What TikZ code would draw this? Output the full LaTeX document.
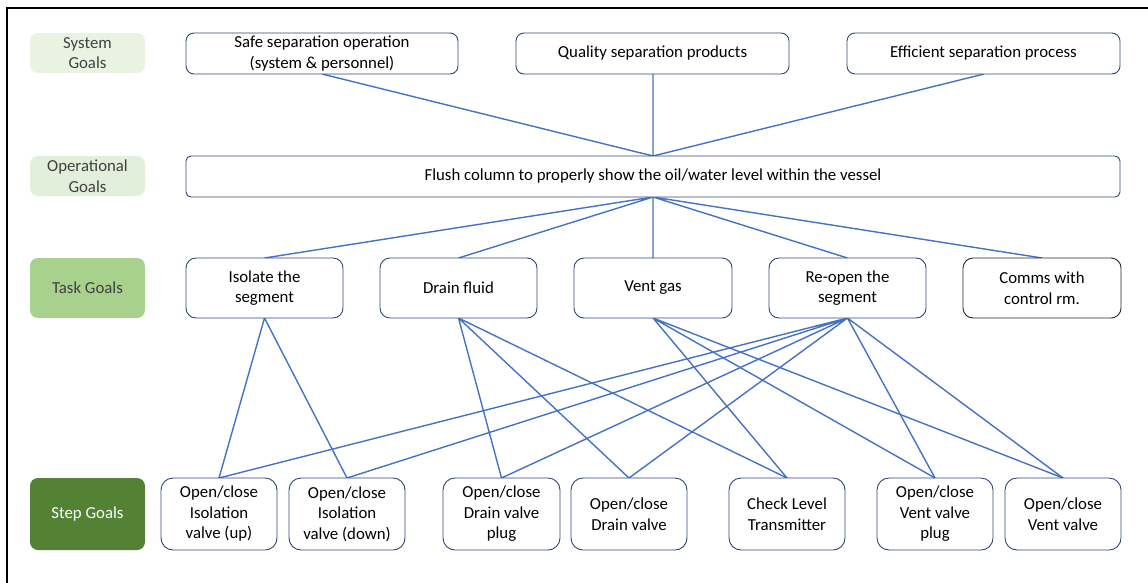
\documentclass[tikz,border=0pt]{standalone}
\usepackage{fontspec}
\setmainfont{Carlito}
\definecolor{lnblue}{HTML}{4472C4}
\definecolor{bdblue}{HTML}{2F4676}
\definecolor{lblA}{HTML}{E8F4E1}
\definecolor{lblB}{HTML}{E2EFDA}
\definecolor{lblC}{HTML}{A9D18E}
\definecolor{lblD}{HTML}{548235}
\definecolor{txtgray}{HTML}{404040}
\begin{document}
\begin{tikzpicture}[x=1pt,y=-1pt,
  every node/.style={font=\fontsize{16.8}{20.5}\selectfont, inner sep=0pt, outer sep=0pt},
  goalbox/.style={draw=bdblue, line width=0.9pt, rounded corners=8pt, fill=white, align=center, text=black},
  lbl/.style={rounded corners=8pt, align=center, text=txtgray, minimum width=115pt},
  conn/.style={draw=lnblue, line width=1.4pt}]
\useasboundingbox (0,0) rectangle (1148,582);
\fill[white] (0,0) rectangle (1148,582);
\draw[line width=1.6pt] (7,590) -- (7,8) -- (1150,8);

% left labels
\node[lbl, fill=lblA, minimum height=40pt] (lsys) at (87.5,53) {System\\Goals};
\node[lbl, fill=lblB, minimum height=40pt] (lop) at (87.5,176) {Operational\\Goals};
\node[lbl, fill=lblC, minimum height=60pt] (ltask) at (87.5,288) {Task Goals};
\node[lbl, fill=lblD, minimum height=72pt, text=white] (lstep) at (87.5,514) {Step Goals};

% connector end points
\coordinate (sysA) at (322,74);
\coordinate (sysB) at (653,74);
\coordinate (sysC) at (984,74);
\coordinate (opT) at (653,156);
\coordinate (opB) at (653,197);
\coordinate (tA) at (264.5,258);
\coordinate (tB) at (458.5,258);
\coordinate (tC) at (653,258);
\coordinate (tD) at (847.5,258);
\coordinate (tE) at (1042,258);
\coordinate (tAb) at (264.5,318);
\coordinate (tBb) at (458.5,318);
\coordinate (tCb) at (653,318);
\coordinate (tDb) at (847.5,318);
\coordinate (s1) at (219,478);
\coordinate (s2) at (347,478);
\coordinate (s3) at (501.5,478);
\coordinate (s4) at (629,478);
\coordinate (s5) at (787,478);
\coordinate (s6) at (935,478);
\coordinate (s7) at (1063,478);

\draw[conn] (sysA) -- (opT) (sysB) -- (opT) (sysC) -- (opT);
\draw[conn] (opB) -- (tA) (opB) -- (tB) (opB) -- (tC) (opB) -- (tD) (opB) -- (tE);
\draw[conn] (tAb) -- (s1) (tAb) -- (s2);
\draw[conn] (tBb) -- (s3) (tBb) -- (s4) (tBb) -- (s5);
\draw[conn] (tCb) -- (s5) (tCb) -- (s6) (tCb) -- (s7);
\draw[conn] (tDb) -- (s1) (tDb) -- (s2) (tDb) -- (s3) (tDb) -- (s4) (tDb) -- (s6) (tDb) -- (s7);

% system goals
\node[goalbox, minimum width=272pt, minimum height=41pt] (safe) at (322,53.5) {Safe separation operation\\(system \& personnel)};
\node[goalbox, minimum width=273pt, minimum height=41pt] (qual) at (652.5,53.5) {Quality separation products};
\node[goalbox, minimum width=273pt, minimum height=41pt] (eff) at (983.5,53.5) {Efficient separation process};

% operational goal
\node[goalbox, rounded corners=5pt, minimum width=934pt, minimum height=41pt] (flush) at (653,176.5) {Flush column to properly show the oil/water level within the vessel};

% task goals
\node[goalbox, rounded corners=10pt, minimum width=157pt, minimum height=60pt] (iso) at (264.5,288) {Isolate the\\segment};
\node[goalbox, rounded corners=10pt, minimum width=157pt, minimum height=60pt] (drain) at (458.5,288) {Drain fluid};
\node[goalbox, rounded corners=10pt, minimum width=158pt, minimum height=60pt] (vent) at (653,288) {Vent gas};
\node[goalbox, rounded corners=10pt, minimum width=157pt, minimum height=60pt] (reopen) at (847.5,288) {Re-open the\\segment};
\node[goalbox, draw=black!85, rounded corners=10pt, minimum width=158pt, minimum height=60pt] (comms) at (1042,288) {Comms with\\control rm.};

% step goals
\tikzset{stepbox/.style={goalbox, rounded corners=12pt, minimum width=116pt, minimum height=72pt}}
\node[stepbox] (st1) at (219,514) {Open/close\\Isolation\\valve (up)};
\node[stepbox] (st2) at (347,514) {Open/close\\Isolation\\valve (down)};
\node[stepbox, minimum width=117pt] (st3) at (501.5,514) {Open/close\\Drain valve\\plug};
\node[stepbox] (st4) at (629,514) {Open/close\\Drain valve};
\node[stepbox] (st5) at (787,514) {Check Level\\Transmitter};
\node[stepbox] (st6) at (935,514) {Open/close\\Vent valve\\plug};
\node[stepbox] (st7) at (1063,514) {Open/close\\Vent valve};
\end{tikzpicture}
\end{document}
